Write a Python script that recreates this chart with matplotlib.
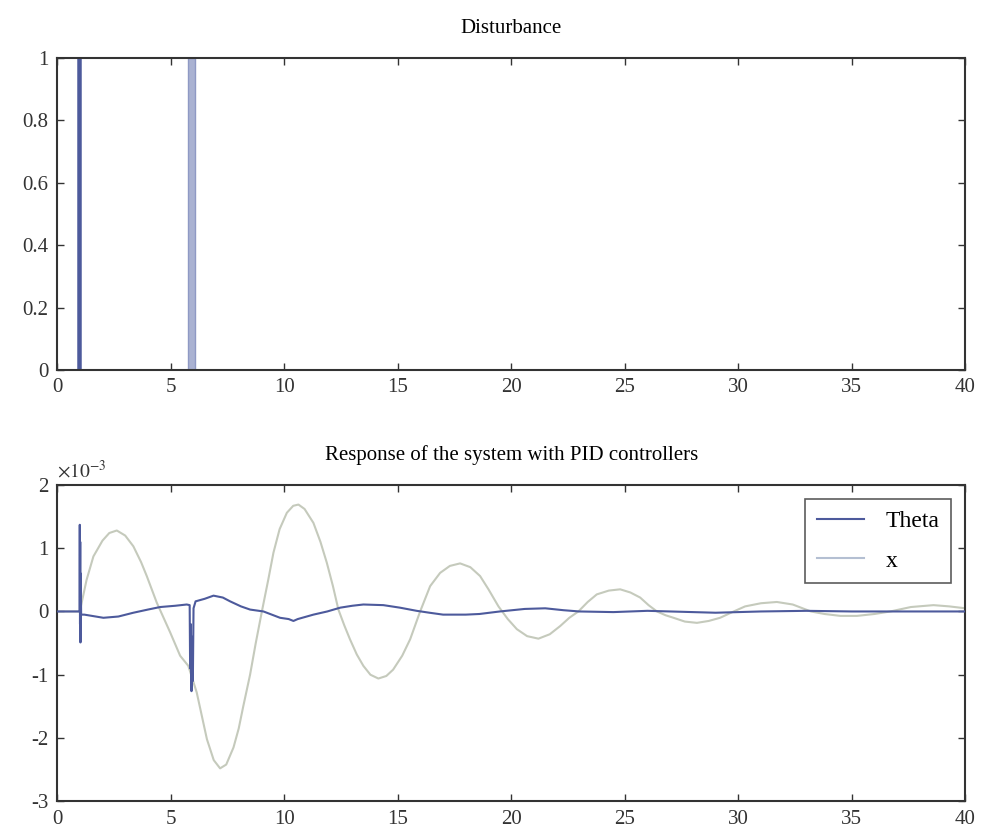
import matplotlib
matplotlib.use('Agg')
import matplotlib.pyplot as plt

# disturbance pulses
dist_t = [0, 0.9, 0.9, 1.0, 1.0, 5.78, 5.78, 6.06, 6.06, 40]
dist_v = [0, 0, 1, 1, 0, 0, 1, 1, 0, 0]

# cart position x (x 1e-3)
x_t = [0, 1.0, 1.3, 1.6, 2.0, 2.3, 2.63, 3.0, 3.36, 3.7, 3.95, 4.39, 4.98, 5.42, 5.78,
       6.15, 6.6, 6.9, 7.18, 7.45, 7.77, 8.0, 8.2, 8.5, 8.75, 9.02, 9.3, 9.53, 9.8,
       10.12, 10.4, 10.63, 10.9, 11.29, 11.6, 11.88, 12.15, 12.39, 12.65, 12.9, 13.2,
       13.49, 13.8, 14.15, 14.5, 14.8, 15.2, 15.55, 15.99, 16.43, 16.87, 17.3, 17.75,
       18.2, 18.63, 19.0, 19.44, 19.85, 20.25, 20.7, 21.2, 21.7, 22.16, 22.56, 22.96,
       23.37, 23.77, 24.3, 24.8, 25.25, 25.68, 26.05, 26.42, 26.8, 27.15, 27.65, 28.18,
       28.7, 29.2, 29.8, 30.3, 31.0, 31.7, 32.4, 33.2, 33.8, 34.5, 35.23, 36.0, 36.7,
       37.6, 38.6, 39.3, 40]
x_v = [0, 0, 0.5, 0.87, 1.12, 1.24, 1.28, 1.2, 1.03, 0.78, 0.56, 0.14, -0.33, -0.7, -0.86,
       -1.28, -2.02, -2.35, -2.48, -2.42, -2.15, -1.85, -1.5, -1.0, -0.5, 0.0, 0.5, 0.93, 1.3,
       1.56, 1.67, 1.69, 1.62, 1.4, 1.1, 0.77, 0.4, 0.03, -0.22, -0.44, -0.68,
       -0.86, -1.0, -1.06, -1.02, -0.92, -0.7, -0.44, 0.0, 0.4, 0.61, 0.72, 0.76,
       0.7, 0.56, 0.35, 0.08, -0.12, -0.28, -0.39, -0.43, -0.36, -0.23, -0.1, 0.0,
       0.15, 0.27, 0.33, 0.35, 0.3, 0.22, 0.1, 0.0, -0.06, -0.1, -0.16, -0.18,
       -0.15, -0.1, 0.0, 0.08, 0.13, 0.15, 0.11, 0.0, -0.04, -0.07, -0.07, -0.04, 0.0,
       0.07, 0.1, 0.08, 0.05]

# pendulum angle theta (x 1e-3)
th_t = [0, 0.99, 1.0, 1.01, 1.02, 1.03, 1.04, 1.06, 1.2, 2.04, 2.7, 3.36, 4.0, 4.54, 5.2,
        5.71, 5.84, 5.86, 5.89, 5.92, 5.95, 5.98, 6.01, 6.1, 6.5, 6.89, 7.3, 7.62, 8.1,
        8.5, 9.09, 9.82, 10.2, 10.41, 10.6, 11.29, 11.9, 12.47, 13.0, 13.49, 14.37, 15.1,
        15.84, 16.4, 17.0, 18.0, 18.6, 19.5, 20.6, 21.5, 22.3, 23.0, 24.5, 26, 28, 29,
        31, 33, 35, 37, 40]
th_v = [0, 0, 1.37, -0.2, 1.1, -0.49, 0.6, -0.05, -0.05, -0.1, -0.08, -0.02, 0.03, 0.07, 0.09,
        0.11, 0.1, -0.9, -0.2, -1.26, -0.4, -1.1, 0.05, 0.16, 0.2, 0.25, 0.22, 0.16, 0.08,
        0.03, 0.0, -0.1, -0.12, -0.15, -0.12, -0.05, 0.0, 0.06, 0.09, 0.11, 0.1, 0.06,
        0.01, -0.02, -0.05, -0.05, -0.04, 0.0, 0.04, 0.05, 0.02, 0.0, -0.01, 0.01, -0.01, -0.02,
        0.0, 0.01, 0.0, 0.0, 0.0]

plt.rcParams['font.family'] = ['Liberation Serif', 'DejaVu Serif']
plt.rcParams['font.size'] = 12
plt.rcParams['axes.unicode_minus'] = False
plt.rcParams['mathtext.fontset'] = 'stix'

theta_col = '#4d5a9c'
x_col = '#c5cabc'
spine_col = '#333333'

fig = plt.figure(figsize=(9.84, 8.39), dpi=100)
ax1 = fig.add_axes([0.058, 0.559, 0.923, 0.372])
ax2 = fig.add_axes([0.058, 0.045, 0.923, 0.377])


def style(ax):
    ax.tick_params(direction='in', top=True, right=True, length=5, width=1,
                   colors=spine_col, labelsize=15, pad=6)
    for s in ax.spines.values():
        s.set_color(spine_col)
        s.set_linewidth(1.5)


ax1.fill_between(dist_t, dist_v, color='#aab2d2', lw=0)
ax1.plot(dist_t[:5], dist_v[:5], color=theta_col, lw=1.8)
ax1.plot(dist_t[4:], dist_v[4:], color='#8f99c4', lw=1.0)
ax1.set_xlim(0, 40)
ax1.set_ylim(0, 1)
ax1.set_xticks(range(0, 41, 5))
ax1.set_yticks([0, 0.2, 0.4, 0.6, 0.8, 1])
ax1.set_yticklabels(['0', '0.2', '0.4', '0.6', '0.8', '1'])
ax1.set_title('Disturbance', fontsize=15, pad=18)
style(ax1)

ax2.plot(th_t, th_v, color=theta_col, lw=1.5, label='Theta', zorder=3)
ax2.plot(x_t, x_v, color=x_col, lw=1.5, label='x', zorder=2)
ax2.set_xlim(0, 40)
ax2.set_ylim(-3, 2)
ax2.set_xticks(range(0, 41, 5))
ax2.set_yticks([-3, -2, -1, 0, 1, 2])
ax2.set_title('Response of the system with PID controllers', fontsize=15, pad=18)
ax2.text(0.0, 1.012, r'$\times10^{-3}$', transform=ax2.transAxes, fontsize=14,
         ha='left', va='bottom', color=spine_col)
leg = ax2.legend(loc='upper right', fontsize=17, fancybox=False, edgecolor=spine_col,
                 borderaxespad=0.6, handlelength=2.0, handletextpad=0.9,
                 labelspacing=0.75, borderpad=0.5)
leg.get_frame().set_linewidth(1.2)
leg.get_lines()[1].set_color('#b4bfd2')
style(ax2)

fig.savefig('out.png', dpi=100, facecolor='white')
